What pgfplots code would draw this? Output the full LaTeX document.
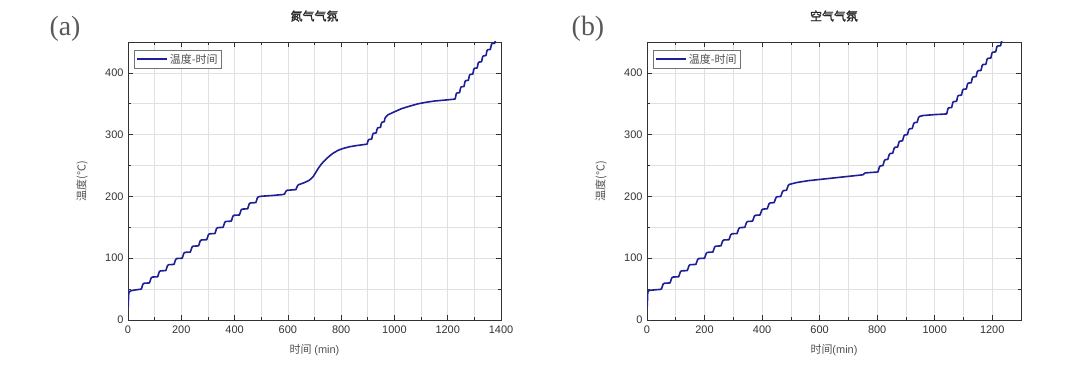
\documentclass[border=0pt]{standalone}
\usepackage{fontspec}
\setmainfont{Liberation Serif}
\setsansfont{Liberation Sans}
\newfontfamily\cjk{Noto Sans CJK SC}
\newfontfamily\cjkb{Noto Sans CJK SC}[FakeBold=1.2]
\usepackage{pgfplots}
\pgfplotsset{compat=1.18}
\definecolor{curve}{RGB}{30,30,150}
\definecolor{txt}{RGB}{80,80,80}
\definecolor{gridc}{RGB}{224,224,224}
\definecolor{frame}{RGB}{50,50,50}
\pgfplotsset{myax/.style={
  scale only axis, height=278bp, anchor=south west,
  ymin=0, ymax=450, ytick={0,100,...,400}, minor ytick={50,150,...,450},
  xmin=0,
  grid=both,
  major grid style={gridc, line width=0.6bp},
  minor grid style={gridc, line width=0.6bp},
  tick align=inside, major tick length=5bp, minor tick length=3bp,
  axis line style={frame, line width=0.8bp},
  every tick/.style={frame, line width=0.7bp},
  tick label style={font=\sffamily\fontsize{11}{11}\selectfont, text=black!80},
  /pgf/number format/assume math mode=true,
  /pgf/number format/1000 sep={},
  xticklabel style={yshift=-2bp},
  yticklabel style={xshift=-1bp},
  title style={at={(axis description cs:0.5,1.072)}, anchor=center, font=\cjkb\fontsize{12}{12}\selectfont, text=black!85},
  xlabel style={at={(axis description cs:0.5,-0.108)}, anchor=center, font=\fontsize{11}{11}\selectfont, text=txt},
  ylabel style={at={(axis description cs:-0.123,0.5)}, anchor=center, font=\cjk\fontsize{11}{11}\selectfont, text=txt},
  legend style={at={(0.016,0.971)}, anchor=north west, draw=black!55, line width=0.6bp, fill=white,
    inner xsep=2bp, inner ysep=1.5bp, font=\cjk\fontsize{11}{12}\selectfont, text=txt},
  legend cell align=left,
  legend image code/.code={\draw[curve, line width=1.6bp] (0bp,0bp) -- (30bp,0bp);},
}}
\begin{document}
\begin{tikzpicture}
\path[use as bounding box] (0bp,0bp) rectangle (1080bp,383bp);
% ---------------- (a) ----------------
\begin{axis}[myax, at={(128bp,63bp)}, width=373bp,
  xmax=1400, xtick={0,200,...,1400}, minor xtick={100,300,...,1300},
  title={氮气气氛},
  xlabel={{\cjk 时间} {\sffamily (min)}},
  ylabel={温度(℃)}]
\addplot[curve, line width=1.6bp, line join=round, no marks] coordinates {
(1.2,22)(1.6,32)(2.3,40)(3.5,44)(6,46)(12,47.5)(25,48.5)(45,49.7)
(50,50)(53,54)(56,58)(60,59.5)
(80.7,60)(83.7,64)(86.7,68)(90.7,69.5)
(111.4,70)(114.4,74)(117.4,78)(121.4,79.5)
(142.1,80)(145.1,84)(148.1,88)(152.1,89.5)
(172.8,90)(175.8,94)(178.8,98)(182.8,99.5)
(203.5,100)(206.5,104)(209.5,108)(213.5,109.5)
(234.2,110)(237.2,114)(240.2,118)(244.2,119.5)
(264.9,120)(267.9,124)(270.9,128)(274.9,129.5)
(295.6,130)(298.6,134)(301.6,138)(305.6,139.5)
(326.3,140)(329.3,144)(332.3,148)(336.3,149.5)
(357,150)(360,154)(363,158)(367,159.5)
(387.7,160)(390.7,164)(393.7,168)(397.7,169.5)
(418.4,170)(421.4,174)(424.4,178)(428.4,179.5)
(449.1,180)(452.1,184)(455.1,188)(459.1,189.5)
(479.8,190)(482.8,194)(485.8,198)(489.8,199.5)
(500,200.3)(540,201.5)(580,203)(588,204)(591,207)(594,209)(598,210)
(630,211)(633,214)(636,217)(640,219)(660,222)(680,226)(695,232)(705,239)
(715,246)(725,252)(740,259)(755,265)(770,270)(790,275)(810,278)(832,280.5)
(860,282.5)(895,284.5)
(898,285)(900,289)(903,292)(915,293)(917,298)(920,302)(932,303)(934,308)(937,311)
(948,312)(950,317)(953,320)(962,321)(964,326)(968,329)(975,332)(985,334)
(1000,337)(1026,342)(1060,346.5)(1089,350)(1120,352.5)(1151,354.5)(1190,356)(1225,357.5)
(1228,358)(1230,362)(1232,366)(1235,367.5)
(1244.5,368)(1246.5,372)(1248.5,376)(1251.5,377.5)
(1261,378)(1263,382)(1265,386)(1268,387.5)
(1277.5,388)(1279.5,392)(1281.5,396)(1284.5,397.5)
(1294,398)(1296,402)(1298,406)(1301,407.5)
(1310.5,408)(1312.5,412)(1314.5,416)(1317.5,417.5)
(1327,418)(1329,422)(1331,426)(1334,427.5)
(1343.5,428)(1345.5,432)(1347.5,436)(1350.5,437.5)
(1360,438)(1362,442)(1364,446)(1367,447.5)
(1376.5,448)(1378.5,452)
};
\addlegendentry{温度-时间}
\end{axis}
% ---------------- (b) ----------------
\begin{axis}[myax, at={(647bp,63bp)}, width=374bp,
  xmax=1300, xtick={0,200,...,1200}, minor xtick={100,300,...,1300},
  title={空气气氛},
  xlabel={{\cjk 时间}{\sffamily (min)}},
  ylabel={温度(℃)}]
\addplot[curve, line width=1.6bp, line join=round, no marks] coordinates {
(1.2,22)(1.6,33)(2.3,42)(3.5,46)(8,48)(20,48.5)(45,49.5)
(50,50)(53,54)(56,58)(60,59.5)
(80,60)(83,64)(86,68)(90,69.5)
(110,70)(113,74)(116,78)(120,79.5)
(140,80)(143,84)(146,88)(150,89.5)
(170,90)(173,94)(176,98)(180,99.5)
(200,100)(203,104)(206,108)(210,109.5)
(229,110)(232,114)(235,118)(239,119.5)
(257,120)(260,124)(263,128)(267,129.5)
(285,130)(288,134)(291,138)(295,139.5)
(313,140)(316,144)(319,148)(323,149.5)
(340,150)(343,154)(346,158)(350,159.5)
(367,160)(370,164)(373,168)(377,169.5)
(393,170)(396,174)(399,178)(403,179.5)
(418,180)(421,184)(424,188)(428,189.5)
(442,190)(445,194)(448,198)(452,199.5)
(465,200)(468,204)(471,208)(475,209.5)
(485,210)(488,214)(491,218)(495,219.5)
(520,222.5)(560,225.5)(600,227.5)(650,230)(700,232.5)(750,235)(754,236.5)(758,238)(770,238.5)(800,239.5)
(803,240)(805.5,244)(808,248)(811,249.5)
(820,250)(822.5,254)(825,258)(828,259.5)
(837,260)(839.5,264)(842,268)(845,269.5)
(854,270)(856.5,274)(859,278)(862,279.5)
(871,280)(873.5,284)(876,288)(879,289.5)
(888,290)(890.5,294)(893,298)(896,299.5)
(905,300)(907.5,304)(910,308)(913,309.5)
(922,310)(924.5,314)(927,318)(930,319.5)
(939,320)(941.5,324)(944,328)(947,329.5)
(960,331)(1000,332.5)(1040,333.5)
(1042,334)(1044,338)(1046,342)(1049,343.5)
(1059,344)(1061,348)(1063,352)(1066,353.5)
(1076,354)(1078,358)(1080,362)(1083,363.5)
(1093,364)(1095,368)(1097,372)(1100,373.5)
(1110,374)(1112,378)(1114,382)(1117,383.5)
(1127,384)(1129,388)(1131,392)(1134,393.5)
(1144,394)(1146,398)(1148,402)(1151,403.5)
(1161,404)(1163,408)(1165,412)(1168,413.5)
(1178,414)(1180,418)(1182,422)(1185,423.5)
(1195,424)(1197,428)(1199,432)(1202,433.5)
(1212,434)(1214,438)(1216,442)(1219,443.5)
(1229,444)(1231,448)(1233,452)
};
\addlegendentry{温度-时间}
\end{axis}
\node[font=\fontsize{28}{28}\selectfont, text=black!65] at (65bp,354bp) {(a)};
\node[font=\fontsize{28}{28}\selectfont, text=black!65] at (588bp,354bp) {(b)};
\end{tikzpicture}
\end{document}
